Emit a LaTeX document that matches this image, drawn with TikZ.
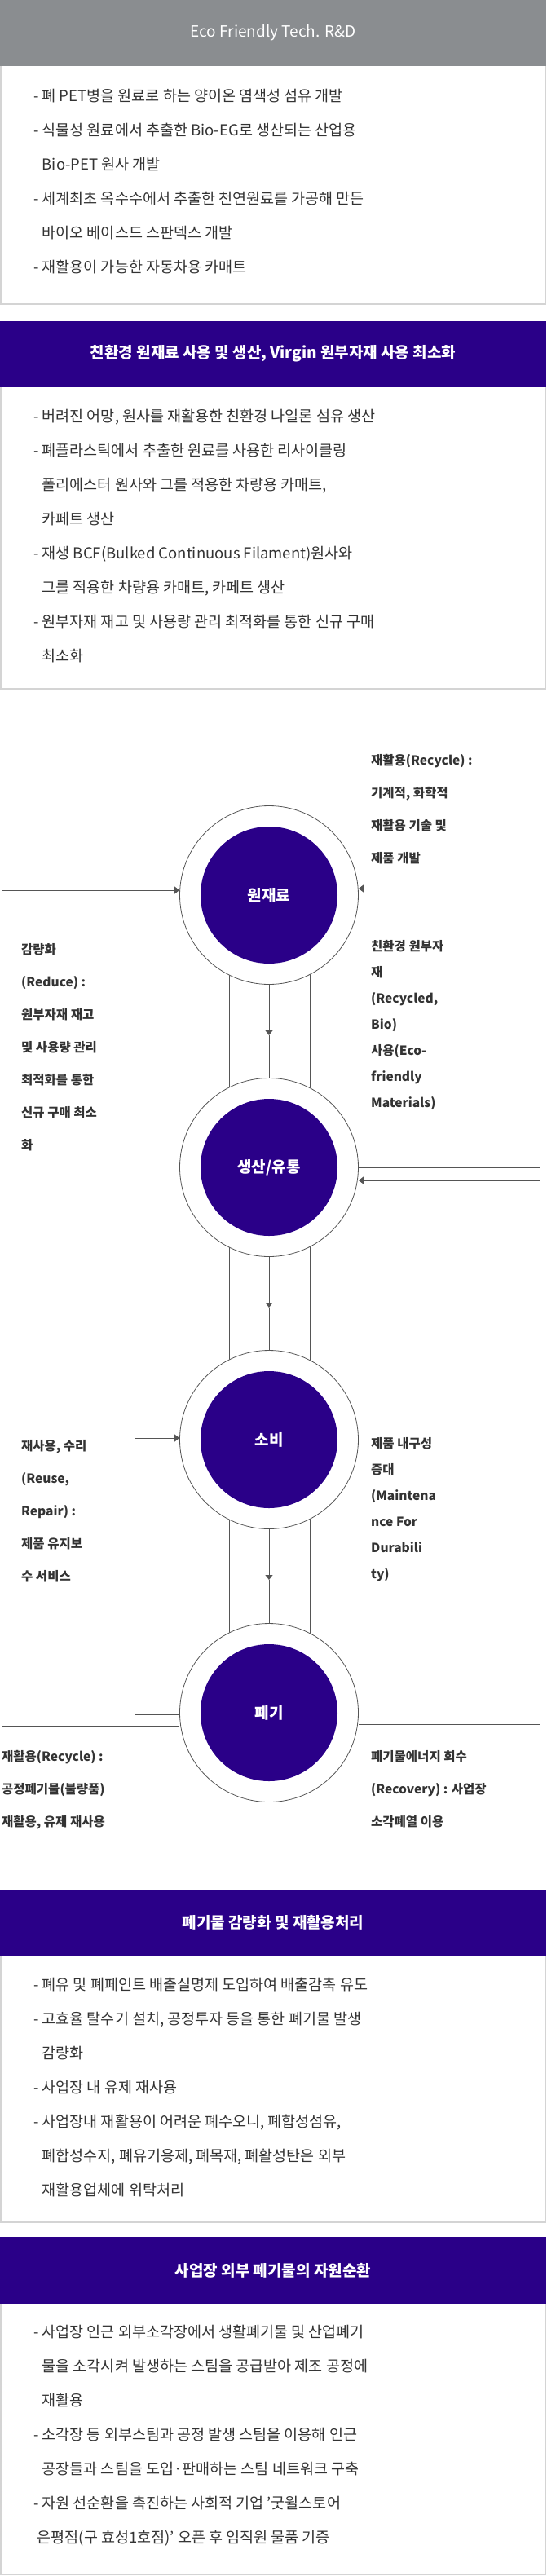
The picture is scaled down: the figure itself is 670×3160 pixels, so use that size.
\documentclass[tikz,border=0pt]{standalone}
\usepackage{fontspec}
\setmainfont{Noto Sans CJK KR}
\usetikzlibrary{arrows.meta}
\definecolor{hgray}{HTML}{8A8D90}
\definecolor{hpurp}{HTML}{2A0088}
\definecolor{bord}{HTML}{D4D4D4}
\definecolor{txt}{HTML}{333333}
\definecolor{ln}{HTML}{555555}
\tikzset{
 hdr/.style={text=white,font=\fontsize{19}{22}\selectfont},
 body/.style={anchor=north west,align=left,inner sep=0pt,text=txt,font=\fontsize{18.5}{42}\selectfont},
 lbl/.style={anchor=north west,align=left,inner sep=0pt,text=txt,font=\fontsize{15.5}{40}\selectfont\bfseries},
 lbln/.style={lbl,font=\fontsize{15.5}{32}\selectfont\bfseries},
 outer/.style={circle,draw=ln,line width=0.8pt,fill=white,minimum size=219pt,inner sep=0pt},
 inner/.style={circle,fill=hpurp,minimum size=168pt,text=white,font=\fontsize{19}{22}\selectfont\bfseries},
 conn/.style={draw=ln,line width=1pt},
 arr/.style={conn,-{Triangle[width=9pt,length=6pt]}}
}
\begin{document}
\begin{tikzpicture}[x=1pt,y=-1pt]
\useasboundingbox (0,0) rectangle (670,3160);
% box 1
\draw[bord,line width=2pt,fill=white] (1,64) rectangle (669,373);
\fill[hgray] (0,0) rectangle (670,81);
\node[hdr] (h1) at (335,40) {Eco Friendly Tech. R\&D};
\node[body] (b1) at (41,109) {- 폐 PET병을 원료로 하는 양이온 염색성 섬유 개발\\- 식물성 원료에서 추출한 Bio-EG로 생산되는 산업용\\\phantom{- }Bio-PET 원사 개발\\- 세계최초 옥수수에서 추출한 천연원료를 가공해 만든\\\phantom{- }바이오 베이스드 스판덱스 개발\\- 재활용이 가능한 자동차용 카매트};
% box 2
\draw[bord,line width=2pt,fill=white] (1,430) rectangle (669,845);
\fill[hpurp] (0,394) rectangle (670,475);
\node[hdr,font=\fontsize{19}{22}\selectfont\bfseries] (h2) at (335,434) {친환경 원재료 사용 및 생산, Virgin 원부자재 사용 최소화};
\node[body] (b2) at (41,502) {- 버려진 어망, 원사를 재활용한 친환경 나일론 섬유 생산\\- 폐플라스틱에서 추출한 원료를 사용한 리사이클링\\\phantom{- }폴리에스터 원사와 그를 적용한 차량용 카매트,\\\phantom{- }카페트 생산\\- 재생 BCF(Bulked Continuous Filament)원사와\\\phantom{- }그를 적용한 차량용 카매트, 카페트 생산\\- 원부자재 재고 및 사용량 관리 최적화를 통한 신규 구매\\\phantom{- }최소화};
% diagram verticals
\foreach \a/\b in {1098/1432,1432/1766,1766/2101}{
 \draw[conn] (281,\a) -- (281,\b);
 \draw[conn] (380,\a) -- (380,\b);
}
\node[outer] (c1) at (330,1098) {};
\node[outer] (c2) at (330,1432) {};
\node[outer] (c3) at (330,1766) {};
\node[outer] (c4) at (330,2101) {};
\node[inner] (i1) at (c1) {원재료};
\node[inner] (i2) at (c2) {생산/유통};
\node[inner] (i3) at (c3) {소비};
\node[inner] (i4) at (c4) {폐기};
\coordinate (m1) at (330,1270);
\coordinate (m2) at (330,1604);
\coordinate (m3) at (330,1938);
\draw[arr] (c1.south) -- (m1); \draw[conn] (m1) -- (c2.north);
\draw[arr] (c2.south) -- (m2); \draw[conn] (m2) -- (c3.north);
\draw[arr] (c3.south) -- (m3); \draw[conn] (m3) -- (c4.north);
% loops
\draw[arr] (c4.west |- 0,2117) -| (2,1092) -- (c1.west |- 0,1092);
\draw[arr] (c4.west |- 0,2103) -| (165,1764) -- (c3.west |- 0,1764);
\draw[arr] (c2.east |- 0,1432) -| (662,1090) -- (c1.east |- 0,1090);
\draw[arr] (c4.east |- 0,2115) -| (662,1448) -- (c2.east |- 0,1448);
% labels
\node[lbl] (l1) at (455,925) {재활용(Recycle) :\\기계적, 화학적\\재활용 기술 및\\제품 개발};
\node[lbl] (l2) at (26,1157) {감량화\\(Reduce) :\\원부자재 재고\\및 사용량 관리\\최적화를 통한\\신규 구매 최소\\화};
\node[lbln] (l3) at (455,1153) {친환경 원부자\\재\\(Recycled,\\Bio)\\사용(Eco-\\friendly\\Materials)};
\node[lbl] (l4) at (26,1766) {재사용, 수리\\(Reuse,\\Repair) :\\제품 유지보\\수 서비스};
\node[lbln] (l5) at (455,1763) {제품 내구성\\증대\\(Maintena\\nce For\\Durabili\\ty)};
\node[lbl] (l6) at (2,2147) {재활용(Recycle) :\\공정폐기물(불량품)\\재활용, 유제 재사용};
\node[lbl] (l7) at (455,2147) {폐기물에너지 회수\\(Recovery) : 사업장\\소각폐열 이용};
% box 3
\draw[bord,line width=2pt,fill=white] (1,2380) rectangle (669,2726);
\fill[hpurp] (0,2318) rectangle (670,2399);
\node[hdr,font=\fontsize{19}{22}\selectfont\bfseries] (h3) at (335,2358) {폐기물 감량화 및 재활용처리};
\node[body] (b3) at (41,2426) {- 폐유 및 폐페인트 배출실명제 도입하여 배출감축 유도\\- 고효율 탈수기 설치, 공정투자 등을 통한 폐기물 발생\\\phantom{- }감량화\\- 사업장 내 유제 재사용\\- 사업장내 재활용이 어려운 폐수오니, 폐합성섬유,\\\phantom{- }폐합성수지, 폐유기용제, 폐목재, 폐활성탄은 외부\\\phantom{- }재활용업체에 위탁처리};
% box 4
\draw[bord,line width=2pt,fill=white] (1,2800) rectangle (669,3158);
\fill[hpurp] (0,2744) rectangle (670,2826);
\node[hdr,font=\fontsize{19}{22}\selectfont\bfseries] (h4) at (335,2785) {사업장 외부 폐기물의 자원순환};
\node[body] (b4) at (41,2852) {- 사업장 인근 외부소각장에서 생활폐기물 및 산업폐기\\\phantom{- }물을 소각시켜 발생하는 스팀을 공급받아 제조 공정에\\\phantom{- }재활용\\- 소각장 등 외부스팀과 공정 발생 스팀을 이용해 인근\\\phantom{- }공장들과 스팀을 도입·판매하는 스팀 네트워크 구축\\- 자원 선순환을 촉진하는 사회적 기업 '굿윌스토어\\\hspace{-6pt}\phantom{- }은평점(구 효성1호점)' 오픈 후 임직원 물품 기증};
\end{tikzpicture}
\end{document}
